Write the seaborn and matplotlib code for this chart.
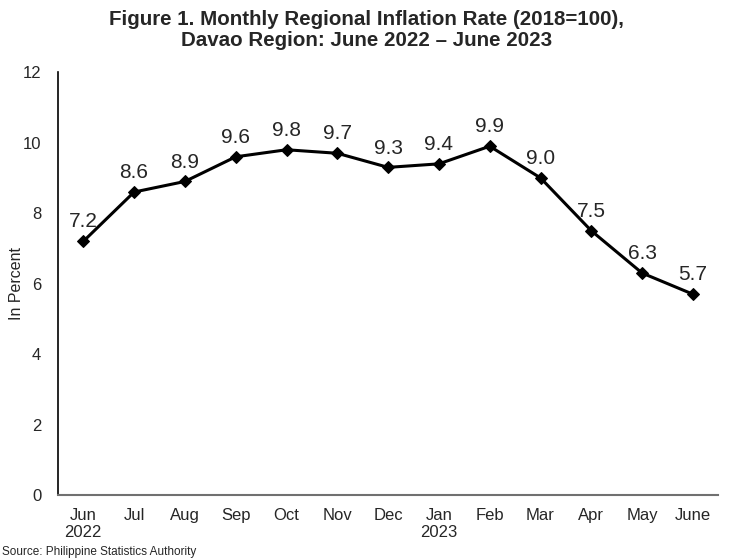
import pandas as pd
import matplotlib
matplotlib.use("Agg")
import matplotlib.pyplot as plt
import seaborn as sns

# =====================================================
# DATA
# =====================================================

months = ["Jun\n2022", "Jul", "Aug", "Sep", "Oct", "Nov", "Dec",
          "Jan\n2023", "Feb", "Mar", "Apr", "May", "June"]
rates = [7.2, 8.6, 8.9, 9.6, 9.8, 9.7, 9.3, 9.4, 9.9, 9.0, 7.5, 6.3, 5.7]
y_ticks = [0, 2, 4, 6, 8, 10, 12]

df = pd.DataFrame({"Month": range(len(months)), "Rate": rates})

# =====================================================
# PLOT
# =====================================================

sns.set_style("white")
plt.rcParams["font.family"] = ["Liberation Sans", "DejaVu Sans"]

fig = plt.figure(figsize=(7.33, 5.6), dpi=100)
ax = fig.add_axes([0.079, 0.116, 0.901, 0.755])

sns.lineplot(
    data=df, x="Month", y="Rate",
    color="black", linewidth=2.2,
    marker="D", markersize=6.5, markeredgecolor="black",
    ax=ax
)

for i, v in enumerate(rates):
    ax.text(i, v + 0.28, f"{v:.1f}", ha="center", va="bottom", fontsize=15)

ax.set_xlim(-0.5, len(months) - 0.5)
ax.set_ylim(0, 12)
ax.set_yticks(y_ticks)
ax.set_xticks(range(len(months)))
ax.set_xticklabels(months, fontsize=12)
ax.tick_params(axis="y", labelsize=12, length=0, pad=12)
ax.tick_params(axis="x", length=0, pad=9)
ax.set_xlabel("")
ax.set_ylabel("In Percent", fontsize=11.5)
ax.yaxis.set_label_coords(-0.052, 0.5)

for side in ["top", "right"]:
    ax.spines[side].set_visible(False)
ax.spines["left"].set_color("black")
ax.spines["left"].set_linewidth(1.2)
ax.spines["bottom"].set_color("#707070")
ax.spines["bottom"].set_linewidth(1.5)

fig.suptitle(
    "Figure 1. Monthly Regional Inflation Rate (2018=100),\nDavao Region: June 2022 \u2013 June 2023",
    fontsize=14.8, fontweight="bold", y=0.982, linespacing=1.15
)

fig.text(0.003, 0.003, "Source: Philippine Statistics Authority", fontsize=8.5, ha="left", va="bottom")

plt.savefig("out.png", dpi=100)
